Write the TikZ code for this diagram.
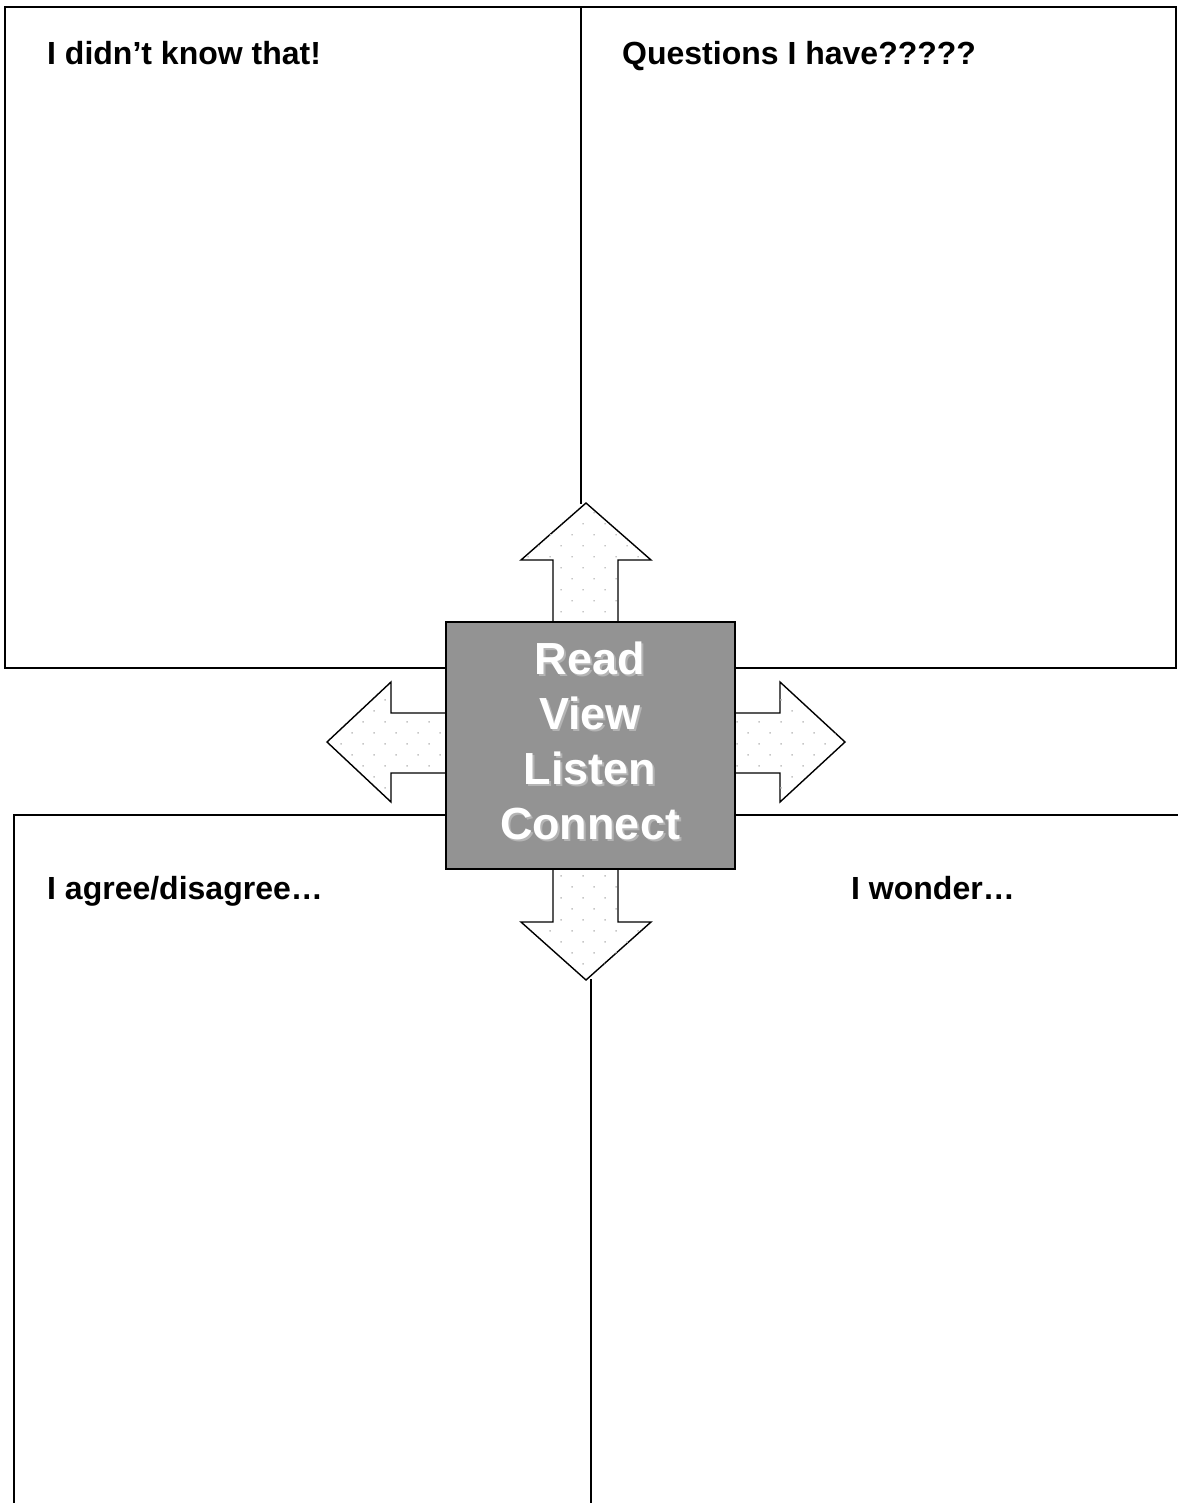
\documentclass[tikz,border=0pt]{standalone}
\usepackage{fontspec}
\setmainfont{Liberation Sans}
\usetikzlibrary{patterns.meta}
\definecolor{boxgray}{HTML}{939393}
\definecolor{shadowgray}{HTML}{B4B4B4}
\tikzset{
  frame/.style={line width=2pt, line cap=rect},
  bigarrow/.style={draw=black, line width=1.4pt, line join=miter, fill=white,
    postaction={pattern={Dots[distance=15.56pt, radius=1pt, angle=45]}, pattern color=gray!45}},
  heading/.style={anchor=base west, font=\bfseries\fontsize{32}{36}\selectfont, inner sep=0pt},
  centertext/.style={font=\bfseries\fontsize{45}{50}\selectfont, inner sep=0pt, anchor=base},
  centerbox/.style={draw=black, line width=2pt, fill=boxgray, minimum width=289pt, minimum height=247pt, inner sep=0pt}
}
\begin{document}
\begin{tikzpicture}[x=1pt,y=-1pt]
\useasboundingbox (0,0) rectangle (1177,1503);
% frames
\draw[frame] (5,668) -- (5,7) -- (1176,7) -- (1176,668) -- cycle;
\draw[frame] (581,7) -- (581,503);
\draw[frame] (14,1503) -- (14,815) -- (1177,815);
\draw[frame] (591,980) -- (591,1503);
% arrows
\draw[bigarrow] (553,622) -- (553,560) -- (521,560) -- (586,503) -- (651,560) -- (618,560) -- (618,622) -- cycle;
\draw[bigarrow] (553,869) -- (553,922) -- (521,922) -- (586,980) -- (651,922) -- (618,922) -- (618,869) -- cycle;
\draw[bigarrow] (446,713) -- (391,713) -- (391,682) -- (327,742) -- (391,802) -- (391,773) -- (446,773) -- cycle;
\draw[bigarrow] (735,713) -- (780,713) -- (780,682) -- (845,742) -- (780,802) -- (780,773) -- (735,773) -- cycle;
% centre
\node[centerbox] (c) at (590.5,745.5) {};
\foreach \t/\yy [count=\i] in {Read/674,View/729,Listen/784,Connect/839}{
  \node[centertext, text=shadowgray] (s\i) at (592,\yy+2) {\t};
  \node[centertext, text=white] (w\i) at (590,\yy) {\t};
}
% headings
\node[heading] (h1) at (47,65) {I didn’t know that!};
\node[heading] (h2) at (622,65) {Questions I have?????};
\node[heading] (h3) at (47,899) {I agree/disagree…};
\node[heading] (h4) at (851,899) {I wonder…};
\end{tikzpicture}
\end{document}
